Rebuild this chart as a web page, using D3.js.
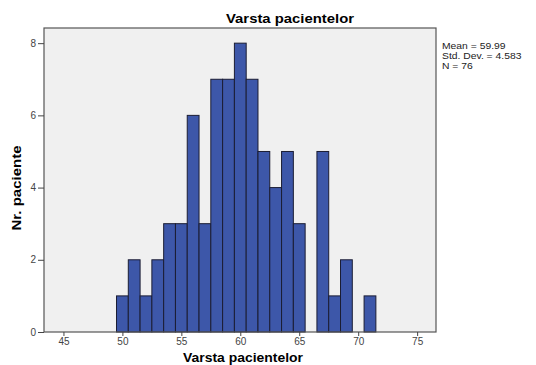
<!DOCTYPE html>
<html>
<head>
<meta charset="utf-8">
<script src="https://cdn.jsdelivr.net/npm/d3@7"></script>
<style>
  body { margin: 0; background: #fff; }
  svg text { font-family: "Liberation Sans", Arial, sans-serif; }
</style>
</head>
<body>
<div id="canvas"></div>
<script>
// varsta (ani) si numar pacienti pe fiecare bin
const ages = [50, 51, 52, 53, 54, 55, 56, 57, 58, 59, 60, 61, 62, 63, 64, 65, 66, 67, 68, 69, 70, 71];
const counts = [1, 2, 1, 2, 3, 3, 6, 3, 7, 7, 8, 7, 5, 4, 5, 3, 0, 5, 1, 2, 0, 1];
const xTicks = [45, 50, 55, 60, 65, 70, 75];
const yTicks = [0, 2, 4, 6, 8];
const stats = ["Mean = 59.99", "Std. Dev. = 4.583", "N = 76"];

const width = 536, height = 365;
const plot = { left: 44, right: 436, top: 28, bottom: 332 };

const svg = d3.select("#canvas").append("svg")
    .attr("width", width)
    .attr("height", height);

const x = d3.scaleLinear().domain([43.35, 76.6]).range([plot.left, plot.right]);
const y = d3.scaleLinear().domain([0, 8.42]).range([plot.bottom, plot.top]);

// fundal
svg.append("rect")
    .attr("x", plot.left).attr("y", plot.top)
    .attr("width", plot.right - plot.left)
    .attr("height", plot.bottom - plot.top)
    .attr("fill", "#f0f0f0");

const data = ages.map((a, i) => ({ age: a, n: counts[i] })).filter(d => d.n > 0);

svg.append("g").selectAll("rect").data(data)
    .enter().append("rect")
    .attr("x", d => x(d.age - 0.5))
    .attr("y", d => y(d.n))
    .attr("width", d => x(d.age + 0.5) - x(d.age - 0.5))
    .attr("height", d => y(0) - y(d.n))
    .attr("fill", "#3d57a9")
    .attr("stroke", "#1b1d33")
    .attr("stroke-width", 1);

// rama
svg.append("rect")
    .attr("x", plot.left).attr("y", plot.top)
    .attr("width", plot.right - plot.left)
    .attr("height", plot.bottom - plot.top)
    .attr("fill", "none")
    .attr("stroke", "#555")
    .attr("stroke-width", 1.2);

const gx = svg.append("g")
    .attr("transform", `translate(0,${plot.bottom})`)
    .call(d3.axisBottom(x).tickValues(xTicks).tickSize(4).tickPadding(2));
const gy = svg.append("g")
    .attr("transform", `translate(${plot.left},0)`)
    .call(d3.axisLeft(y).tickValues(yTicks).tickSize(6).tickPadding(2));

[gx, gy].forEach(g => {
    g.select(".domain").remove();
    g.selectAll("line").attr("stroke", "#444");
    g.selectAll("text").attr("fill", "#444").style("font-size", "10px")
        .style("font-family", "Liberation Sans, Arial, sans-serif");
});

svg.append("text")
    .attr("x", 290).attr("y", 23)
    .attr("text-anchor", "middle")
    .attr("textLength", 128).attr("lengthAdjust", "spacingAndGlyphs")
    .style("font-size", "13px").style("font-weight", "bold")
    .text("Varsta pacientelor");

svg.append("text")
    .attr("x", 243).attr("y", 362)
    .attr("text-anchor", "middle")
    .attr("textLength", 120).attr("lengthAdjust", "spacingAndGlyphs")
    .style("font-size", "13px").style("font-weight", "bold")
    .text("Varsta pacientelor");

svg.append("text")
    .attr("transform", "translate(21,188) rotate(-90)")
    .attr("text-anchor", "middle")
    .attr("textLength", 85).attr("lengthAdjust", "spacingAndGlyphs")
    .style("font-size", "12px").style("font-weight", "bold")
    .text("Nr. paciente");

svg.append("g")
    .attr("transform", "translate(442,0) scale(1.15,1)")
    .selectAll("text").data(stats)
    .enter().append("text")
    .attr("x", 0)
    .attr("y", (d, i) => 49 + i * 10)
    .style("font-size", "9px")
    .attr("fill", "#222")
    .text(d => d);
</script>
</body>
</html>
